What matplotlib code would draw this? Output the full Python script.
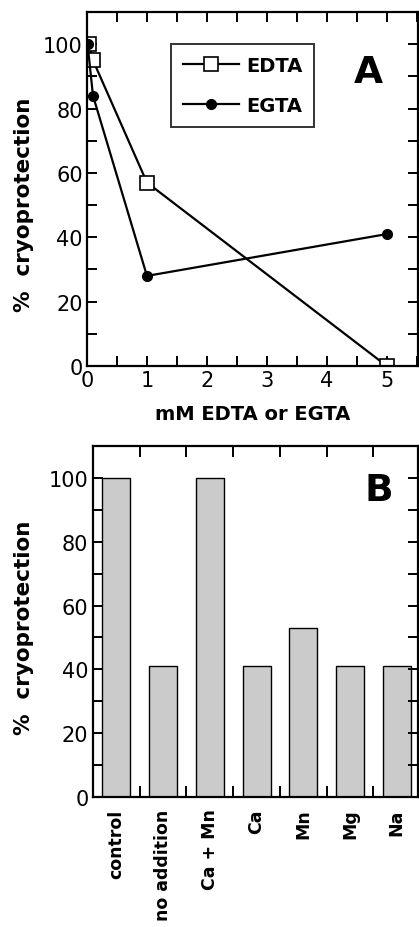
import numpy as np
import matplotlib.pyplot as plt
from matplotlib.ticker import MultipleLocator

plt.rcParams['font.family'] = ['DejaVu Sans']

# panel A data
edta_x = [0.03, 0.1, 1, 5]
edta_y = [100, 95, 57, 0]
egta_x = [0.01, 0.1, 1, 5]
egta_y = [100, 84, 28, 41]

# panel B data
categories = ['control', 'no addition', 'Ca + Mn', 'Ca', 'Mn', 'Mg', 'Na']
protection = [100, 41, 100, 41, 53, 41, 41]

fig = plt.figure(figsize=(4.19, 9.28), dpi=100)


def style_axes(ax, label_y):
    for s in ax.spines.values():
        s.set_linewidth(1.6)
    ax.yaxis.set_major_locator(MultipleLocator(20))
    ax.yaxis.set_minor_locator(MultipleLocator(10))
    ax.tick_params(which='both', direction='in', top=True, right=True, width=1.4)
    ax.tick_params(which='major', length=7, labelsize=15, pad=3)
    ax.tick_params(which='minor', length=7)
    ax.set_ylim(0, 110)
    ax.set_ylabel('%  cryoprotection', fontsize=15.5, fontweight='bold')
    # anchor = right edge of the rotated label, in figure coords
    ax.yaxis.set_label_coords(0.082, label_y, transform=fig.transFigure)


# --- panel A
axA = fig.add_axes([0.2076, 0.6045, 0.79, 0.3815])
axA.plot(edta_x, edta_y, '-', color='black', lw=1.6, marker='s', ms=10,
         mfc='white', mec='black', mew=1.2, label='EDTA')
axA.plot(egta_x, egta_y, '-', color='black', lw=1.6, marker='o', ms=7,
         mfc='black', mec='black', label='EGTA')
axA.set_xlim(0, 5.52)
axA.xaxis.set_major_locator(MultipleLocator(1))
axA.xaxis.set_minor_locator(MultipleLocator(0.5))
style_axes(axA, 0.779)
axA.set_xlabel('mM EDTA or EGTA', fontsize=14, fontweight='bold', labelpad=10)
leg = axA.legend(loc='upper left', bbox_to_anchor=(0.255, 0.91), frameon=True,
                 fancybox=False, edgecolor='black', prop={'weight': 'bold', 'size': 14},
                 handlelength=2.9, borderpad=0.6, labelspacing=1.1, handletextpad=0.35,
                 borderaxespad=0)
leg.get_frame().set_linewidth(1.4)
axA.text(0.85, 0.83, 'A', transform=axA.transAxes, fontsize=27, fontweight='bold',
         ha='center', va='center')

# --- panel B
axB = fig.add_axes([0.221, 0.1397, 0.776, 0.379])
pos = np.arange(len(categories))
axB.bar(pos, protection, width=0.6, color='#cbcbcb', edgecolor='black', linewidth=1.0)
axB.set_xlim(-0.51, 6.45)
style_axes(axB, 0.323)
axB.set_xticks(pos)
axB.set_xticklabels(categories, rotation=90, fontweight='bold')
axB.set_xticks(pos[:-1] + 0.5, minor=True)
axB.tick_params(axis='x', which='major', length=0, pad=8, labelsize=12.5)
axB.tick_params(axis='x', which='minor', length=8)
axB.text(0.88, 0.875, 'B', transform=axB.transAxes, fontsize=27, fontweight='bold',
         ha='center', va='center')

fig.savefig('out.png', dpi=100)
